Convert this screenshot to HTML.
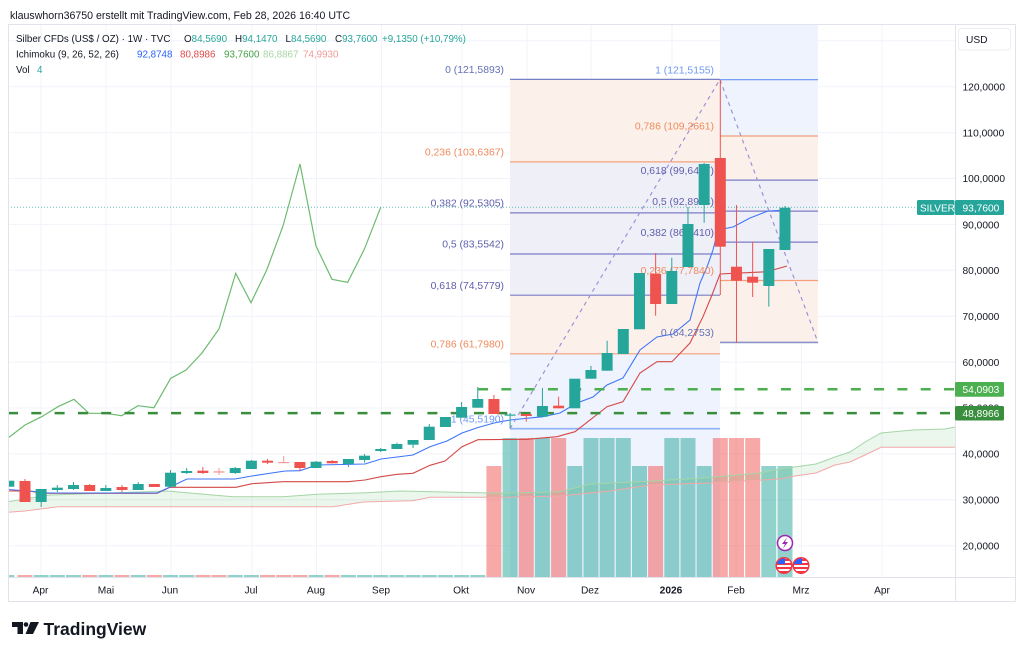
<!DOCTYPE html>
<html><head><meta charset="utf-8"><style>
html,body{margin:0;padding:0;background:#fff;}
svg{display:block;font-family:"Liberation Sans",Arial,sans-serif;}
</style></head><body>
<svg width="1024" height="655" viewBox="0 0 1024 655" xmlns="http://www.w3.org/2000/svg">
<defs>
<clipPath id="pane"><rect x="8" y="24" width="947" height="553"/></clipPath>
<clipPath id="f1"><circle cx="784" cy="565.5" r="7.5"/></clipPath>
<clipPath id="f2"><circle cx="801" cy="565.5" r="7.5"/></clipPath>
</defs>
<rect width="1024" height="655" fill="#fff"/>
<text x="10" y="19" font-size="10.6" fill="#131722">klauswhorn36750 erstellt mit TradingView.com, Feb 28, 2026 16:40 UTC</text>

<g clip-path="url(#pane)">
<g stroke="#f0f3fa" stroke-width="1">
<line x1="8" x2="955" y1="40.8" y2="40.8"/><line x1="8" x2="955" y1="86.7" y2="86.7"/><line x1="8" x2="955" y1="132.6" y2="132.6"/><line x1="8" x2="955" y1="178.5" y2="178.5"/><line x1="8" x2="955" y1="224.4" y2="224.4"/><line x1="8" x2="955" y1="270.3" y2="270.3"/><line x1="8" x2="955" y1="316.2" y2="316.2"/><line x1="8" x2="955" y1="362.1" y2="362.1"/><line x1="8" x2="955" y1="408" y2="408"/><line x1="8" x2="955" y1="453.9" y2="453.9"/><line x1="8" x2="955" y1="499.8" y2="499.8"/><line x1="8" x2="955" y1="545.7" y2="545.7"/>
<line x1="41" x2="41" y1="24" y2="577"/><line x1="106" x2="106" y1="24" y2="577"/><line x1="171" x2="171" y1="24" y2="577"/><line x1="252" x2="252" y1="24" y2="577"/><line x1="316.5" x2="316.5" y1="24" y2="577"/><line x1="381.5" x2="381.5" y1="24" y2="577"/><line x1="462" x2="462" y1="24" y2="577"/><line x1="527" x2="527" y1="24" y2="577"/><line x1="591" x2="591" y1="24" y2="577"/><line x1="672" x2="672" y1="24" y2="577"/><line x1="736" x2="736" y1="24" y2="577"/><line x1="801.5" x2="801.5" y1="24" y2="577"/><line x1="882" x2="882" y1="24" y2="577"/>
</g>
<rect x="510" y="79.4" width="210" height="82.5" fill="#fcf0e9" opacity="0.95"/>
<rect x="510" y="161.9" width="210" height="133.3" fill="#eeeef8" opacity="0.95"/>
<rect x="510" y="295.2" width="210" height="58.6" fill="#fcf0e9" opacity="0.95"/>
<rect x="510" y="353.8" width="210" height="223.2" fill="#edf2fd" opacity="0.95"/>
<rect x="720" y="24" width="98" height="112" fill="#edf2fd" opacity="0.95"/>
<rect x="720" y="136" width="98" height="44.1" fill="#fcf0e9" opacity="0.95"/>
<rect x="720" y="180.1" width="98" height="100.4" fill="#eeeef8" opacity="0.95"/>
<rect x="720" y="280.5" width="98" height="61.9" fill="#fcf0e9" opacity="0.95"/>
<g stroke-width="1.2">
<line x1="510" x2="720" y1="79.4" y2="79.4" stroke="#7580c4"/>
<line x1="510" x2="720" y1="161.9" y2="161.9" stroke="#f5a07a"/>
<line x1="510" x2="720" y1="212.9" y2="212.9" stroke="#7c7cc6"/>
<line x1="510" x2="720" y1="254" y2="254" stroke="#7c7cc6"/>
<line x1="510" x2="720" y1="295.2" y2="295.2" stroke="#7c7cc6"/>
<line x1="510" x2="720" y1="353.8" y2="353.8" stroke="#f5a07a"/>
<line x1="510" x2="720" y1="428.7" y2="428.7" stroke="#8fb2f7" stroke-width="1.6"/>
<line x1="720" x2="818" y1="79.7" y2="79.7" stroke="#6a94f5"/>
<line x1="720" x2="818" y1="136" y2="136" stroke="#f5a07a"/>
<line x1="720" x2="818" y1="180.1" y2="180.1" stroke="#7c7cc6"/>
<line x1="720" x2="818" y1="211.1" y2="211.1" stroke="#7c7cc6"/>
<line x1="720" x2="818" y1="242.1" y2="242.1" stroke="#7c7cc6"/>
<line x1="720" x2="818" y1="280.5" y2="280.5" stroke="#f5a07a"/>
<line x1="720" x2="818" y1="342.4" y2="342.4" stroke="#8a93c9" stroke-width="1.6"/>
</g>
<g fill="rgba(38,166,154,0.5)">
<rect x="8" y="575" width="6.3" height="2"/><rect x="33.7" y="575" width="15" height="2"/><rect x="49.8" y="575" width="15" height="2"/><rect x="66" y="575" width="15" height="2"/><rect x="98.3" y="575" width="15" height="2"/><rect x="130.7" y="575" width="15" height="2"/><rect x="163" y="575" width="15" height="2"/><rect x="179.2" y="575" width="15" height="2"/><rect x="227.7" y="575" width="15" height="2"/><rect x="243.9" y="575" width="15" height="2"/><rect x="308.6" y="575" width="15" height="2"/><rect x="340.9" y="575" width="15" height="2"/><rect x="357.1" y="575" width="15" height="2"/><rect x="373.2" y="575" width="15" height="2"/><rect x="389.4" y="575" width="15" height="2"/><rect x="405.6" y="575" width="15" height="2"/><rect x="421.8" y="575" width="15" height="2"/><rect x="437.9" y="575" width="15" height="2"/><rect x="454.1" y="575" width="15" height="2"/><rect x="470.3" y="575" width="15" height="2"/>
<rect x="502.6" y="438" width="15" height="139"/><rect x="534.9" y="438" width="15" height="139"/><rect x="567.3" y="466" width="15" height="111"/><rect x="583.5" y="438" width="15" height="139"/><rect x="599.6" y="438" width="15" height="139"/><rect x="615.8" y="438" width="15" height="139"/><rect x="632" y="466" width="15" height="111"/><rect x="664.3" y="438" width="15" height="139"/><rect x="680.5" y="438" width="15" height="139"/><rect x="696.6" y="466" width="15" height="111"/><rect x="761.3" y="466" width="15" height="111"/><rect x="777.5" y="466" width="15" height="111"/>
</g>
<g fill="rgba(239,83,80,0.5)">
<rect x="17.5" y="575" width="15" height="2"/><rect x="82.2" y="575" width="15" height="2"/><rect x="114.5" y="575" width="15" height="2"/><rect x="146.9" y="575" width="15" height="2"/><rect x="195.4" y="575" width="15" height="2"/><rect x="211.5" y="575" width="15" height="2"/><rect x="260" y="575" width="15" height="2"/><rect x="276.2" y="575" width="15" height="2"/><rect x="292.4" y="575" width="15" height="2"/><rect x="324.7" y="575" width="15" height="2"/>
<rect x="486.4" y="466" width="15" height="111"/><rect x="518.8" y="438" width="15" height="139"/><rect x="551.1" y="438" width="15" height="139"/><rect x="648.1" y="466" width="15" height="111"/><rect x="712.8" y="438" width="15" height="139"/><rect x="729" y="438" width="15" height="139"/><rect x="745.2" y="438" width="15" height="139"/>
</g>
<polygon fill="rgba(76,175,80,0.11)" points="8,501.7 50,495 167,491 233,496.7 283,496.7 317,494.3 367,492.7 400,491 433,491.7 500,493.3 560,491.7 590,484 640,481.7 700,478.3 737,475 760,473 780,469 816,464 835,457 850,452 865,442 881,433 913,430 945,429 955,427 955,447.3 881,447.3 865,455 850,462 835,465 816,473 795,476 780,479 710,483 650,485 610,491 560,496 500,497.3 430,497.3 413,500.7 363,502 333,506.7 58,506.7 25,511 8,512.3"/>
<polyline fill="none" stroke="#a5d6a7" stroke-width="1" points="8,501.7 50,495 167,491 233,496.7 283,496.7 317,494.3 367,492.7 400,491 433,491.7 500,493.3 560,491.7 590,484 640,481.7 700,478.3 737,475 760,473 780,469 816,464 835,457 850,452 865,442 881,433 913,430 945,429 955,427"/>
<polyline fill="none" stroke="#f4a8a8" stroke-width="1" points="8,512.3 25,511 58,506.7 333,506.7 363,502 413,500.7 430,497.3 500,497.3 560,496 610,491 650,485 710,483 780,479 795,476 816,473 835,465 850,462 865,455 881,447.3 955,447.3"/>
<polyline fill="none" stroke="#d44848" stroke-width="1.1" points="8,491 30,491 41,493.3 157,493.3 170,487.3 236,487.3 252,483.7 283,481.7 348,481.7 365,480 381,476.7 397,474.3 413,473.3 430,465.3 445,461 462,446.7 478,439.7 527,439.3 557,436.7 575,431.7 607,406.7 623,401.7 640,373 657,361.7 672,361.7 690,343 703,316.7 712,295 720,274 733,273.3 767,271.7 787,266"/>
<polyline fill="none" stroke="#3f75f7" stroke-width="1.1" points="8,489.5 35,491.5 41,493 157,493 170,487 187,479 235,479 252,476 285,471 300,470.7 317,465 365,464 381,459 413,455 430,446.7 447,441 462,433 478,427.5 494,423 510,420 543,416.7 560,413 577,403 593,397 607,385 623,378 640,350 657,337 673,334 690,320 700,283 707,267 713,250 718,230 733,227 750,218 768,211 787,210"/>
<polyline fill="none" stroke="#6cbb6f" stroke-width="1.2" points="8,438 25,425 41.7,416.7 58,406.7 74,399.3 89,413.3 106,413.3 121.7,415.7 138,405.7 154,407.7 170.7,378.3 186,370 202,353 219,329 235.7,273.3 251,302.7 266.7,270 283,226 300,164 316,246 332,279.3 347.7,282.3 364.3,249.3 380.7,207.3"/>
<line x1="510" y1="428.7" x2="720" y2="79.4" stroke="#9d92d6" stroke-width="1.2" stroke-dasharray="4 4"/>
<line x1="720" y1="79.7" x2="818" y2="342.4" stroke="#9d92d6" stroke-width="1.2" stroke-dasharray="4 4"/>
<line x1="478" x2="955" y1="389.3" y2="389.3" stroke="#4caf50" stroke-width="2.5" stroke-dasharray="10 13.3"/>
<line x1="8" x2="955" y1="413.1" y2="413.1" stroke="#388e3c" stroke-width="2.5" stroke-dasharray="10 13.3"/>
<line x1="8" x2="917" y1="207.3" y2="207.3" stroke="#26a69a" stroke-width="1" stroke-dasharray="1 2" opacity="0.7"/>
<g font-size="10.4" text-anchor="end">
<text x="504" y="73" fill="#6471b8">0 (121,5893)</text>
<text x="504" y="155.6" fill="#f08a5d">0,236 (103,6367)</text>
<text x="504" y="206.6" fill="#5f5fad">0,382 (92,5305)</text>
<text x="504" y="247.7" fill="#5f5fad">0,5 (83,5542)</text>
<text x="504" y="288.9" fill="#5f5fad">0,618 (74,5779)</text>
<text x="504" y="347.5" fill="#f08a5d">0,786 (61,7980)</text>
<text x="504" y="422.4" fill="#6f98f2">1 (45,5190)</text>
<text x="714" y="73.4" fill="#6f98f2">1 (121,5155)</text>
<text x="714" y="129.7" fill="#f08a5d">0,786 (109,2661)</text>
<text x="714" y="173.8" fill="#5f5fad">0,618 (99,6497)</text>
<text x="714" y="204.8" fill="#5f5fad">0,5 (92,8954)</text>
<text x="714" y="235.8" fill="#5f5fad">0,382 (86,1410)</text>
<text x="714" y="274.2" fill="#f08a5d">0,236 (77,7840)</text>
<text x="714" y="336.1" fill="#6471b8">0 (64,2753)</text>
</g>
<g stroke="#26a69a" stroke-width="1">
<line x1="41.17" x2="41.17" y1="489" y2="507"/><line x1="57.34" x2="57.34" y1="485" y2="492"/><line x1="73.51" x2="73.51" y1="482" y2="490"/><line x1="105.85" x2="105.85" y1="485" y2="491"/><line x1="138.19" x2="138.19" y1="482" y2="490"/><line x1="170.53" x2="170.53" y1="470" y2="486.7"/><line x1="186.7" x2="186.7" y1="468" y2="474"/><line x1="235.21" x2="235.21" y1="467" y2="474"/><line x1="251.38" x2="251.38" y1="460" y2="469"/><line x1="316.06" x2="316.06" y1="461" y2="468"/><line x1="348.4" x2="348.4" y1="459" y2="467"/><line x1="364.57" x2="364.57" y1="454" y2="462.7"/><line x1="380.74" x2="380.74" y1="448" y2="452"/><line x1="396.91" x2="396.91" y1="442.7" y2="449"/><line x1="413.08" x2="413.08" y1="440" y2="448"/><line x1="429.25" x2="429.25" y1="424" y2="440"/><line x1="461.59" x2="461.59" y1="402" y2="417.7"/><line x1="477.76" x2="477.76" y1="387" y2="407.7"/><line x1="510.1" x2="510.1" y1="413" y2="428"/><line x1="542.44" x2="542.44" y1="388" y2="416.7"/><line x1="590.95" x2="590.95" y1="366" y2="378.7"/><line x1="607.12" x2="607.12" y1="340.7" y2="370.7"/><line x1="671.8" x2="671.8" y1="257.7" y2="304"/><line x1="687.97" x2="687.97" y1="207" y2="267"/><line x1="704.14" x2="704.14" y1="163" y2="222.7"/><line x1="768.82" x2="768.82" y1="249" y2="306.7"/><line x1="784.99" x2="784.99" y1="206" y2="250"/>
</g>
<g fill="#26a69a">
<rect x="8" y="480.7" width="6.3" height="6"/><rect x="35.67" y="489" width="11" height="13"/><rect x="51.84" y="487.7" width="11" height="2.3"/><rect x="68.01" y="485" width="11" height="4"/><rect x="100.35" y="488" width="11" height="3"/><rect x="132.69" y="484" width="11" height="6"/><rect x="165.03" y="472.7" width="11" height="14"/><rect x="181.2" y="471" width="11" height="2"/><rect x="229.71" y="468" width="11" height="5"/><rect x="245.88" y="460.7" width="11" height="8.3"/><rect x="310.56" y="461.7" width="11" height="6.3"/><rect x="342.9" y="459" width="11" height="5"/><rect x="359.07" y="455.7" width="11" height="4.3"/><rect x="375.24" y="449" width="11" height="2"/><rect x="391.41" y="444" width="11" height="5"/><rect x="407.58" y="440" width="11" height="4.7"/><rect x="423.75" y="426.7" width="11" height="13.3"/><rect x="439.92" y="417" width="11" height="10"/><rect x="456.09" y="407" width="11" height="10.7"/><rect x="472.26" y="399" width="11" height="8.7"/><rect x="504.6" y="414.5" width="11" height="1.2"/><rect x="536.94" y="406" width="11" height="10.7"/><rect x="569.28" y="378.7" width="11" height="29.6"/><rect x="585.45" y="370" width="11" height="8.7"/><rect x="601.62" y="353" width="11" height="17.7"/><rect x="617.79" y="329" width="11" height="25"/><rect x="633.96" y="273" width="11" height="56.3"/><rect x="666.3" y="271" width="11" height="33"/><rect x="682.47" y="224" width="11" height="43"/><rect x="698.64" y="164" width="11" height="41"/><rect x="763.32" y="249" width="11" height="37"/><rect x="779.49" y="207.7" width="11" height="42.3"/>
</g>
<g stroke="#ef5350" stroke-width="1">
<line x1="25" x2="25" y1="479" y2="502"/><line x1="89.68" x2="89.68" y1="484" y2="491"/><line x1="122.02" x2="122.02" y1="485" y2="492"/><line x1="202.87" x2="202.87" y1="467" y2="474"/><line x1="267.55" x2="267.55" y1="459" y2="464"/><line x1="299.89" x2="299.89" y1="462" y2="470.7"/><line x1="332.23" x2="332.23" y1="460" y2="463.3"/><line x1="493.93" x2="493.93" y1="395" y2="414"/><line x1="526.27" x2="526.27" y1="414" y2="421.7"/><line x1="558.61" x2="558.61" y1="396.7" y2="408.3"/><line x1="655.63" x2="655.63" y1="253" y2="315.7"/><line x1="720.31" x2="720.31" y1="80" y2="295"/><line x1="736.48" x2="736.48" y1="205" y2="343"/><line x1="752.65" x2="752.65" y1="241.7" y2="297"/>
</g>
<g stroke="#f19a98" stroke-width="1">
<line x1="219.04" x2="219.04" y1="468" y2="475"/><line x1="283.72" x2="283.72" y1="456" y2="463"/>
</g>
<rect x="213.54" y="471.3" width="11" height="1.3" fill="#f19a98"/><rect x="278.22" y="462" width="11" height="1.2" fill="#f19a98"/>
<g fill="#ef5350">
<rect x="19.5" y="481" width="11" height="21"/><rect x="84.18" y="485" width="11" height="6"/><rect x="116.52" y="487" width="11" height="3"/><rect x="148.86" y="484" width="11" height="3"/><rect x="197.37" y="470.7" width="11" height="2.3"/><rect x="262.05" y="460.7" width="11" height="2"/><rect x="294.39" y="462" width="11" height="6"/><rect x="326.73" y="461" width="11" height="2.3"/><rect x="488.43" y="399" width="11" height="15"/><rect x="520.77" y="414" width="11" height="2"/><rect x="553.11" y="405.7" width="11" height="2.6"/><rect x="650.13" y="274" width="11" height="30"/><rect x="714.81" y="158" width="11" height="88.7"/><rect x="730.98" y="266.7" width="11" height="14"/><rect x="747.15" y="276.7" width="11" height="6"/>
</g>
<circle cx="785" cy="543" r="7.5" fill="#fff" stroke="#9c27b0" stroke-width="1.5"/>
<polygon points="787,537.5 782,544 785,544 783,548.5 788,542 785,542" fill="#9c27b0"/>
<g clip-path="url(#f1)"><rect x="776" y="557" width="17" height="17" fill="#fff"/><rect x="776" y="559" width="17" height="2" fill="#f23645"/><rect x="776" y="563" width="17" height="2" fill="#f23645"/><rect x="776" y="567" width="17" height="2" fill="#f23645"/><rect x="776" y="571" width="17" height="2" fill="#f23645"/><rect x="776" y="557" width="9" height="7" fill="#2962ff"/></g>
<circle cx="784" cy="565.5" r="7.8" fill="none" stroke="#f23645" stroke-width="1.5"/>
<g clip-path="url(#f2)"><rect x="793" y="557" width="17" height="17" fill="#fff"/><rect x="793" y="559" width="17" height="2" fill="#f23645"/><rect x="793" y="563" width="17" height="2" fill="#f23645"/><rect x="793" y="567" width="17" height="2" fill="#f23645"/><rect x="793" y="571" width="17" height="2" fill="#f23645"/><rect x="793" y="557" width="9" height="7" fill="#2962ff"/></g>
<circle cx="801" cy="565.5" r="7.8" fill="none" stroke="#f23645" stroke-width="1.5"/>
</g>

<g stroke="#e0e3eb" stroke-width="1" fill="none">
<line x1="8" x2="1015" y1="24.5" y2="24.5"/>
<line x1="8.5" x2="8.5" y1="24" y2="601.5"/>
<line x1="1015.5" x2="1015.5" y1="24" y2="601.5"/>
<line x1="8" x2="1015" y1="577.5" y2="577.5"/>
<line x1="8" x2="1015" y1="601.5" y2="601.5"/>
<line x1="955.5" x2="955.5" y1="24" y2="601.5"/>
</g>

<g font-size="9.8" fill="#131722">
<text x="16" y="42">Silber CFDs (US$ / OZ) · 1W · TVC</text>
<text x="184" y="42">O<tspan fill="#26a69a">84,5690</tspan></text>
<text x="235" y="42">H<tspan fill="#26a69a">94,1470</tspan></text>
<text x="285.5" y="42">L<tspan fill="#26a69a">84,5690</tspan></text>
<text x="335" y="42">C<tspan fill="#26a69a">93,7600</tspan></text>
<text x="382" y="42" fill="#26a69a">+9,1350 (+10,79%)</text>
<text x="16" y="57.5">Ichimoku (9, 26, 52, 26)</text>
<text x="137" y="57.5" fill="#2962ff">92,8748</text>
<text x="180" y="57.5" fill="#e04848">80,8986</text>
<text x="224" y="57.5" fill="#43a047">93,7600</text>
<text x="263" y="57.5" fill="#a5d6a7">86,8867</text>
<text x="303" y="57.5" fill="#ef9a9a">74,9930</text>
<text x="16" y="73">Vol</text>
<text x="37" y="73" fill="#26a69a">4</text>
</g>

<rect x="958.5" y="28.5" width="52" height="21.5" rx="3" fill="#fff" stroke="#eceef2"/>
<text x="966" y="43" font-size="10.2" fill="#131722">USD</text>
<g font-size="10.2" fill="#131722">
<text x="962.5" y="90.4">120,0000</text>
<text x="962.5" y="136.3">110,0000</text>
<text x="962.5" y="182.2">100,0000</text>
<text x="962.5" y="228.3">90,0000</text>
<text x="962.5" y="274">80,0000</text>
<text x="962.5" y="319.9">70,0000</text>
<text x="962.5" y="365.8">60,0000</text>
<text x="962.5" y="411.7">50,0000</text>
<text x="962.5" y="457.6">40,0000</text>
<text x="962.5" y="503.5">30,0000</text>
<text x="962.5" y="549.4">20,0000</text>
</g>
<rect x="917" y="200" width="37.5" height="15" rx="1.5" fill="#26a69a"/>
<text x="920" y="211.3" font-size="10" fill="#fff">SILVER</text>
<rect x="955" y="200" width="49" height="15" rx="1.5" fill="#26a69a"/>
<text x="962.5" y="211.3" font-size="10.2" fill="#fff">93,7600</text>
<rect x="955" y="382" width="49" height="14.7" rx="1.5" fill="#4caf50"/>
<text x="962.5" y="393.2" font-size="10.2" fill="#fff">54,0903</text>
<rect x="955" y="406" width="49" height="14.5" rx="1.5" fill="#388e3c"/>
<text x="962.5" y="417" font-size="10.2" fill="#fff">48,8966</text>

<g font-size="10.2" fill="#131722" text-anchor="middle">
<text x="40.5" y="593.7">Apr</text>
<text x="106" y="593.7">Mai</text>
<text x="170" y="593.7">Jun</text>
<text x="251" y="593.7">Jul</text>
<text x="316" y="593.7">Aug</text>
<text x="381" y="593.7">Sep</text>
<text x="461" y="593.7">Okt</text>
<text x="526" y="593.7">Nov</text>
<text x="590" y="593.7">Dez</text>
<text x="671" y="593.7" font-weight="bold">2026</text>
<text x="736" y="593.7">Feb</text>
<text x="801" y="593.7">Mrz</text>
<text x="882" y="593.7">Apr</text>
</g>

<g fill="#131722">
<path d="M12 622 H23 V634 H17.5 V627 H12 Z"/>
<circle cx="26" cy="624.5" r="2.3"/>
<polygon points="30.5,622 39,622 33,634 25.5,634"/>
</g>
<text x="43.5" y="635" font-size="17.5" font-weight="bold" fill="#131722">TradingView</text>
</svg>
</body></html>
